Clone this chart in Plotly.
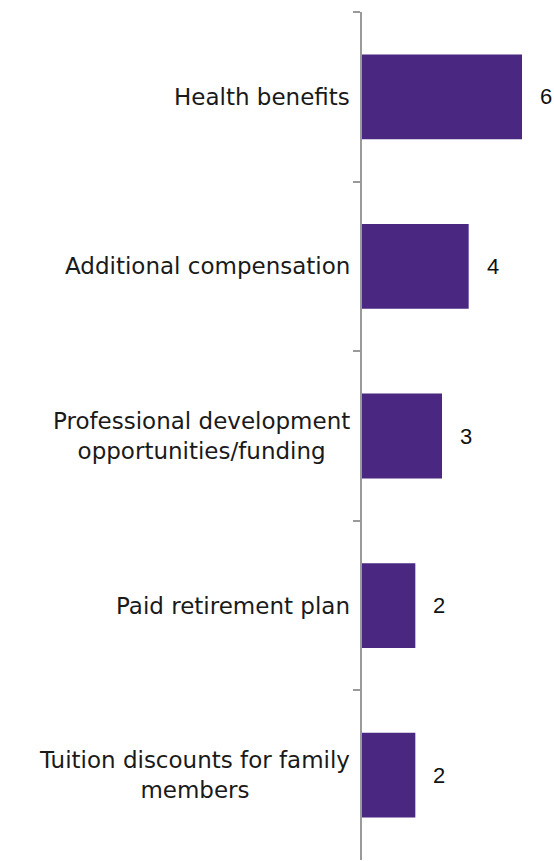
import plotly.graph_objects as go

categories = [
    "Health benefits",
    "Additional compensation",
    "Professional development<br>opportunities/funding",
    "Paid retirement plan",
    "Tuition discounts for family<br>members",
]
values = [6, 4, 3, 2, 2]

BAR_COLOR = "#4a2882"
AXIS_GRAY = "#9a9a9a"
LABEL_FONT = "DejaVu Sans, sans-serif"
VALUE_FONT = "Liberation Sans, Arial, sans-serif"

fig = go.Figure(
    go.Bar(
        x=values,
        y=categories,
        orientation="h",
        marker=dict(color=BAR_COLOR, line=dict(width=0)),
        hoverinfo="skip",
    )
)

# category labels, each line centred, block ending just left of the axis
for cat in categories:
    fig.add_annotation(
        x=0, y=cat, xref="x", yref="y",
        text=cat, showarrow=False,
        xanchor="right", yanchor="middle", align="center",
        xshift=-10,
        font=dict(family=LABEL_FONT, size=23, color="#1a1a1a"),
    )

# value labels beyond each bar end
for cat, v in zip(categories, values):
    fig.add_annotation(
        x=v, y=cat, xref="x", yref="y",
        text=str(v), showarrow=False,
        xanchor="left", yanchor="middle",
        xshift=16,
        font=dict(family=VALUE_FONT, size=22, color="#111111"),
    )

fig.update_layout(
    width=554, height=861,
    margin=dict(l=362, r=0, t=12, b=1),
    paper_bgcolor="white", plot_bgcolor="white",
    bargap=0.5,
    showlegend=False,
    xaxis=dict(range=[0, 7.2], visible=False, fixedrange=True),
    yaxis=dict(
        autorange="reversed",
        showticklabels=False,
        showline=True, linecolor=AXIS_GRAY, linewidth=2,
        ticks="outside", tickson="boundaries", ticklen=7,
        tickcolor=AXIS_GRAY, tickwidth=1.5,
        showgrid=False, zeroline=False, fixedrange=True,
    ),
)

fig.write_html("out.html", config={"displayModeBar": False})
